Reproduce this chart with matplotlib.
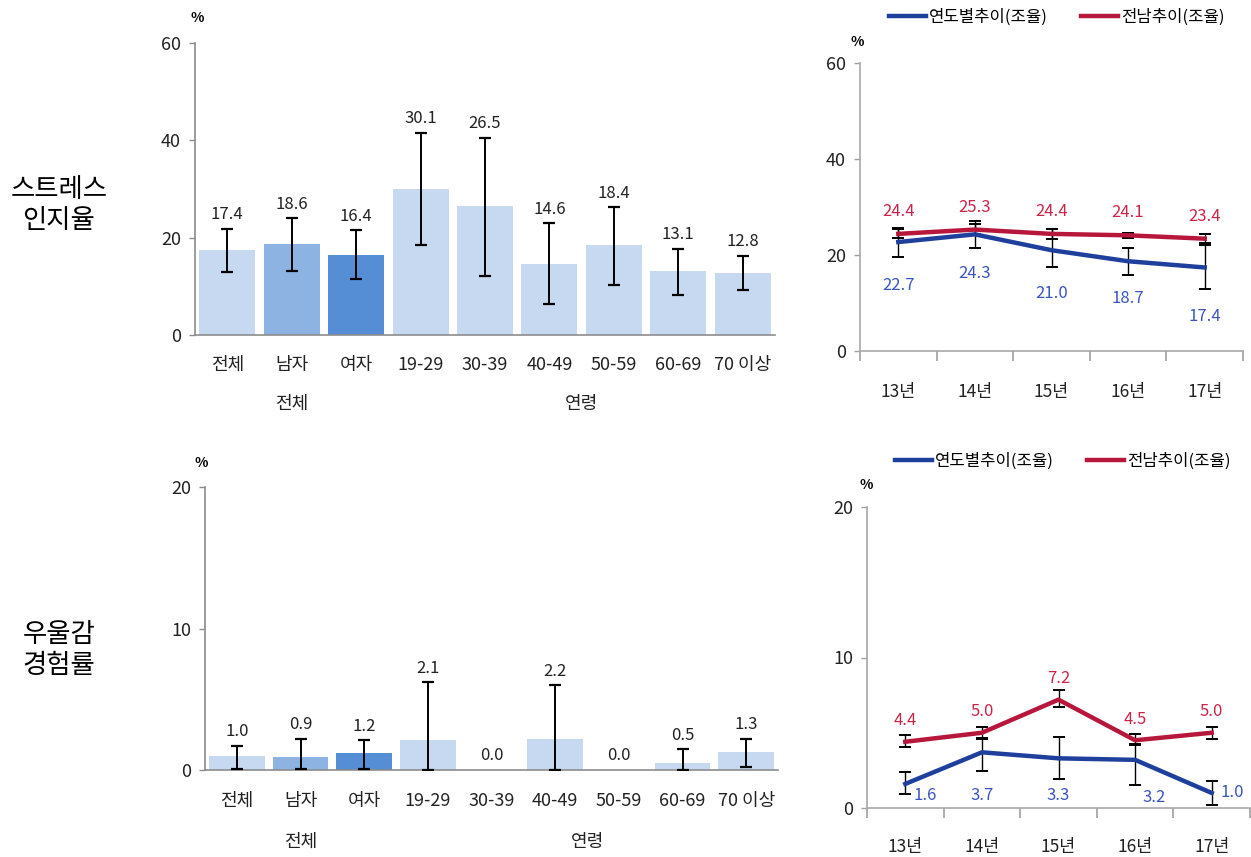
import matplotlib
matplotlib.use("Agg")
import matplotlib.pyplot as plt
import numpy as np
from matplotlib.ticker import FixedLocator

plt.rcParams['font.family'] = ['Noto Sans CJK KR', 'DejaVu Sans']

# ---------------- data ----------------
bar_cats = ['전체', '남자', '여자', '19-29', '30-39', '40-49', '50-59', '60-69', '70 이상']
group_labels = ['전체', '연령']

stress_vals = [17.4, 18.6, 16.4, 30.1, 26.5, 14.6, 18.4, 13.1, 12.8]
stress_lo = [13.0, 13.1, 11.6, 18.4, 12.2, 6.3, 10.3, 8.2, 9.3]
stress_hi = [21.8, 24.0, 21.5, 41.5, 40.5, 23.0, 26.2, 17.7, 16.3]

dep_vals = [1.0, 0.9, 1.2, 2.1, 0.0, 2.2, 0.0, 0.5, 1.3]
dep_lo = [0.1, 0.05, 0.1, 0.0, np.nan, 0.0, np.nan, 0.0, 0.23]
dep_hi = [1.7, 2.2, 2.1, 6.2, np.nan, 6.0, np.nan, 1.45, 2.2]

years = ['13년', '14년', '15년', '16년', '17년']
series_names = ['연도별추이(조율)', '전남추이(조율)']

stress_local = [22.7, 24.3, 21.0, 18.7, 17.4]
stress_local_lo = [19.6, 21.5, 17.4, 15.9, 13.0]
stress_local_hi = [25.7, 27.0, 25.5, 21.5, 22.0]
stress_jn = [24.4, 25.3, 24.4, 24.1, 23.4]
stress_jn_lo = [23.6, 24.4, 23.4, 23.6, 22.4]
stress_jn_hi = [25.4, 26.4, 25.4, 24.6, 24.4]

dep_local = [1.6, 3.7, 3.3, 3.2, 1.0]
dep_local_lo = [0.93, 2.43, 1.9, 1.5, 0.2]
dep_local_hi = [2.4, 4.64, 4.75, 4.24, 1.8]
dep_jn = [4.4, 5.0, 7.2, 4.5, 5.0]
dep_jn_lo = [4.05, 4.6, 6.7, 4.2, 4.6]
dep_jn_hi = [4.84, 5.41, 7.85, 4.93, 5.41]

# ---------------- style ----------------
LIGHT = '#c6d9f1'
MID = '#8db3e2'
DARK = '#558ed5'
bar_colors = [LIGHT, MID, DARK] + [LIGHT] * 6
BLUE = '#1f3f9c'
RED = '#b8173c'
BLUE_T = '#3a55c0'
RED_T = '#cc2448'
SPINE = '#8c8c8c'
TXT = '#222222'

W, H = 1251, 857
fig = plt.figure(figsize=(W / 100, H / 100), dpi=100)


def fx(px):
    return px / W


def fy(py):
    return 1 - py / H


def bar_panel(l, r, y0, ytop, vals, lo, hi, ymax, yticks, lab_off, tick_y, group_y):
    ax = fig.add_axes([fx(l), fy(y0), fx(r - l), (y0 - ytop) / H])
    x = np.arange(len(vals))
    ax.bar(x, vals, width=0.87, color=bar_colors, zorder=2)
    vals_a = np.array(vals)
    lo_a = np.array(lo, dtype=float)
    hi_a = np.array(hi, dtype=float)
    m = ~np.isnan(lo_a)
    ax.errorbar(x[m], vals_a[m], yerr=[vals_a[m] - lo_a[m], hi_a[m] - vals_a[m]],
                fmt='none', ecolor='black', elinewidth=1.4, capsize=4, capthick=1.6, zorder=3)
    for i, v in enumerate(vals):
        top = hi_a[i] if not np.isnan(hi_a[i]) else v
        ax.annotate(f'{v:.1f}', (i, top), xytext=(0, lab_off), textcoords='offset points',
                    ha='center', va='bottom', fontsize=12, color=TXT)
    ax.set_xlim(-0.5, len(vals) - 0.5)
    ax.set_ylim(0, ymax)
    ax.set_yticks(yticks)
    ax.set_yticklabels([str(t) for t in yticks], fontsize=13, color=TXT)
    ax.set_xticks(x)
    ax.set_xticklabels(bar_cats, fontsize=13, color=TXT)
    ax.tick_params(axis='x', length=0, pad=(tick_y - y0) * 0.72 - 4.5)
    ax.tick_params(axis='y', length=4, color=SPINE, width=1, pad=6)
    for s in ['top', 'right']:
        ax.spines[s].set_visible(False)
    for s in ['left', 'bottom']:
        ax.spines[s].set_color(SPINE)
        ax.spines[s].set_linewidth(1.2)
    ax.annotate(group_labels[0], (1, 0), xycoords=('data', 'axes fraction'),
                xytext=(0, -(group_y - y0) * 0.72), textcoords='offset points',
                ha='center', va='center', fontsize=13, color=TXT)
    ax.annotate(group_labels[1], (5.5, 0), xycoords=('data', 'axes fraction'),
                xytext=(0, -(group_y - y0) * 0.72), textcoords='offset points',
                ha='center', va='center', fontsize=13, color=TXT)
    return ax


ax1 = bar_panel(195, 775, 335, 43, stress_vals, stress_lo, stress_hi, 60, [0, 20, 40, 60],
                4, 362, 404)
ax3 = bar_panel(205, 778, 770, 487, dep_vals, dep_lo, dep_hi, 20, [0, 10, 20],
                4, 798, 842)
fig.text(fx(197), fy(18), '%', fontsize=10, fontweight='bold', ha='center', va='center')
fig.text(fx(201), fy(463), '%', fontsize=10, fontweight='bold', ha='center', va='center')


def line_panel(l, r, y0, ytop, loc, loc_lo, loc_hi, jn, jn_lo, jn_hi, ymax, yticks,
               red_off, blue_pos, tick_y, leg_x, leg_y):
    ax = fig.add_axes([fx(l), fy(y0), fx(r - l), (y0 - ytop) / H])
    x = np.arange(len(years))
    loc_a, jn_a = np.array(loc), np.array(jn)
    ax.errorbar(x, jn_a, yerr=[jn_a - np.array(jn_lo), np.array(jn_hi) - jn_a], fmt='none',
                ecolor='black', elinewidth=1.0, capsize=4, capthick=1.4, zorder=2)
    ax.errorbar(x, loc_a, yerr=[loc_a - np.array(loc_lo), np.array(loc_hi) - loc_a], fmt='none',
                ecolor='black', elinewidth=1.0, capsize=4, capthick=1.4, zorder=2)
    l1, = ax.plot(x, loc_a, color=BLUE, lw=3.2, zorder=3, solid_joinstyle='round')
    l2, = ax.plot(x, jn_a, color=RED, lw=3.2, zorder=3, solid_joinstyle='round')
    for i, v in enumerate(jn):
        ax.annotate(f'{v:.1f}', (i, v), xytext=(0, red_off), textcoords='offset points',
                    ha='center', va='bottom', fontsize=12, color=RED_T)
    for i, v in enumerate(loc):
        dx, dy, mode = blue_pos[i]
        if mode == 'abs':
            ax.annotate(f'{v:.1f}', (i, dy), xytext=(dx, 0), textcoords='offset points',
                        ha='center', va='center', fontsize=12, color=BLUE_T)
        else:
            ax.annotate(f'{v:.1f}', (i, v), xytext=(dx, dy), textcoords='offset points',
                        ha='center', va='center', fontsize=12, color=BLUE_T)
    ax.set_xlim(-0.5, len(years) - 0.5)
    ax.set_ylim(0, ymax)
    ax.set_yticks(yticks)
    ax.set_yticklabels([str(t) for t in yticks], fontsize=13, color=TXT)
    ax.set_xticks(x)
    ax.set_xticklabels(years, fontsize=12.5, color=TXT)
    ax.xaxis.set_minor_locator(FixedLocator(np.arange(-0.5, len(years), 1.0)))
    ax.tick_params(axis='x', which='major', length=0, pad=(tick_y - y0) * 0.72 - 5)
    ax.tick_params(axis='x', which='minor', length=7, color='#a0a0a0', width=1.2, direction='out')
    ax.tick_params(axis='y', length=4, color='#a0a0a0', width=1, pad=6)
    for s in ['top', 'right']:
        ax.spines[s].set_visible(False)
    for s in ['left', 'bottom']:
        ax.spines[s].set_color('#a8a8a8')
        ax.spines[s].set_linewidth(1.2)
    fig.legend([l1, l2], series_names, loc='center', bbox_to_anchor=(fx(leg_x), fy(leg_y)),
               ncol=2, frameon=False, fontsize=12, handlelength=2.2, handletextpad=0.2,
               columnspacing=2.0, borderaxespad=0)
    return ax


ax2 = line_panel(860, 1243, 351, 63, stress_local, stress_local_lo, stress_local_hi,
                 stress_jn, stress_jn_lo, stress_jn_hi, 60, [0, 20, 40, 60], 10,
                 [(0, -31, 'rel'), (0, -28, 'rel'), (0, -31, 'rel'), (0, -27, 'rel'), (0, -35, 'rel')],
                 390, 1057, 17)
ax4 = line_panel(867, 1250, 808, 507, dep_local, dep_local_lo, dep_local_hi,
                 dep_jn, dep_jn_lo, dep_jn_hi, 20, [0, 10, 20], 9,
                 [(14, 0.8, 'abs'), (0, 0.8, 'abs'), (0, 0.8, 'abs'), (14, 0.7, 'abs'), (15, 1.0, 'abs')],
                 845, 1063, 461)
fig.text(fx(857), fy(42), '%', fontsize=10, fontweight='bold', ha='center', va='center')
fig.text(fx(866), fy(485), '%', fontsize=10, fontweight='bold', ha='center', va='center')

# row labels
fig.text(fx(59), fy(205), '스트레스\n인지율', fontsize=19, ha='center', va='center',
         linespacing=1.2, color='black')
fig.text(fx(59), fy(650), '우울감\n경험률', fontsize=19, ha='center', va='center',
         linespacing=1.2, color='black')

fig.savefig('out.png', dpi=100, facecolor='white')
